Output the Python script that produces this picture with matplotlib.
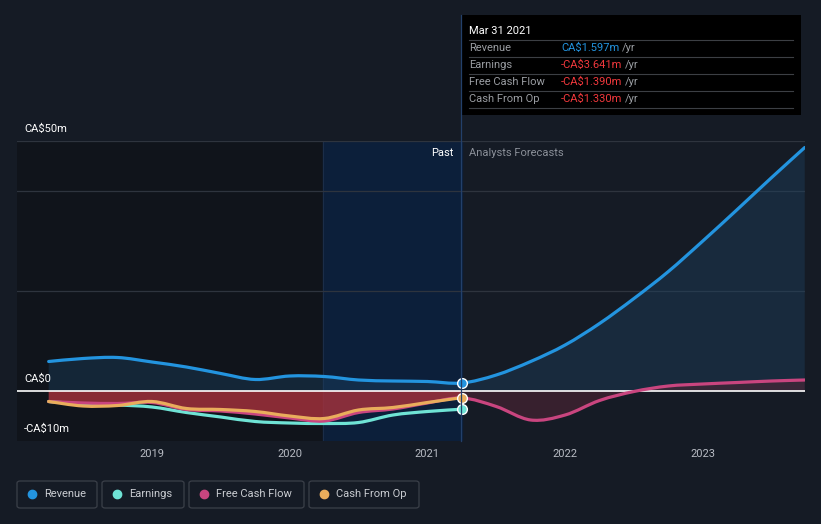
import matplotlib
matplotlib.use("Agg")
import matplotlib.pyplot as plt
from matplotlib.patches import Rectangle, FancyBboxPatch, PathPatch
from matplotlib.path import Path
import numpy as np

plt.rcParams['font.family'] = ['Roboto', 'DejaVu Sans']

# quarterly points as decimal years (trailing twelve months, CA$m)
past_x = [2018.25, 2018.5, 2018.75, 2019.0, 2019.25, 2019.5, 2019.75,
          2020.0, 2020.25, 2020.5, 2020.75, 2021.0, 2021.25]
revenue_past = [5.9, 6.5, 6.7, 5.8, 4.8, 3.5, 2.3, 3.0, 2.9, 2.2, 2.0, 1.9, 1.597]
earnings_past = [-2.1, -2.6, -2.8, -3.2, -4.3, -5.2, -6.1, -6.4, -6.5, -6.3, -4.8, -4.1, -3.641]
fcf_past = [-2.1, -2.4, -2.5, -2.3, -3.7, -4.0, -4.6, -5.4, -6.0, -4.3, -3.6, -2.4, -1.390]
cfo_past = [-2.1, -3.0, -2.9, -2.1, -3.5, -3.7, -4.1, -5.0, -5.5, -3.8, -3.3, -2.3, -1.330]

fc_x = [2021.25, 2021.5, 2021.75, 2022.0, 2022.25, 2022.5, 2022.75,
        2023.0, 2023.25, 2023.5, 2023.74]
revenue_fc = [1.597, 3.2, 5.9, 9.2, 13.5, 18.5, 23.9, 30.0, 36.3, 42.7, 48.7]
fcf_fc = [-1.390, -3.1, -5.8, -4.8, -1.9, -0.1, 1.0, 1.4, 1.7, 2.0, 2.2]

years = [2019, 2020, 2021, 2022, 2023]
y_labels = ['CA$50m', 'CA$0', '-CA$10m']

c_rev = '#2394df'
c_earn = '#6fe3d5'
c_fcf = '#c9457f'
c_cfo = '#e9ad5c'
bg = '#151b25'
FS = 8

W, H = 821, 524
fig = plt.figure(figsize=(W / 100, H / 100), dpi=100, facecolor=bg)


def fx(x):
    return x / W


def fy(y):
    return 1 - y / H


def curve(xs, ys):
    # catmull-rom through the points, as bezier segments
    p = np.column_stack([xs, ys]).astype(float)
    verts, codes = [tuple(p[0])], [Path.MOVETO]
    n = len(p)
    for i in range(n - 1):
        p0 = p[max(i - 1, 0)]
        p1, p2 = p[i], p[i + 1]
        p3 = p[min(i + 2, n - 1)]
        c1 = p1 + (p2 - p0) / 6
        c2 = p2 - (p3 - p1) / 6
        verts += [tuple(c1), tuple(c2), tuple(p2)]
        codes += [Path.CURVE4] * 3
    return verts, codes


def draw_line(ax, xs, ys, color, z):
    v, c = curve(xs, ys)
    ax.add_patch(PathPatch(Path(v, c), fill=False, edgecolor=color, lw=2.3,
                           capstyle='round', joinstyle='round', zorder=z))


def draw_fill(ax, xs, ys, color, alpha, z=1):
    v, c = curve(xs, ys)
    v += [(xs[-1], 0), (xs[0], 0), (xs[0], 0)]
    c += [Path.LINETO, Path.LINETO, Path.CLOSEPOLY]
    ax.add_patch(PathPatch(Path(v, c), facecolor=color, edgecolor='none',
                           alpha=alpha, zorder=z))


ax = fig.add_axes([fx(17), fy(441), 788 / W, 300 / H])
ax.set_facecolor(bg)
ax.set_xlim(2018.02, 2023.742)
ax.set_ylim(-10, 50)
for s in ax.spines.values():
    s.set_visible(False)
ax.set_xticks([])
ax.set_yticks([])

# shaded past regions
ax.axvspan(2018.02, 2020.24, color='#10141b', zorder=0)
ax.axvspan(2020.24, 2021.25, color='#0c1f3a', zorder=0)
ax.axvline(2020.24, color='#1b2d48', lw=0.8, zorder=0.5)

# grid lines
for g in [40, 20, 50]:
    ax.axhline(g, color='#2e343e', lw=0.9, zorder=0.6)

all_x = past_x + fc_x[1:]
all_rev = revenue_past + revenue_fc[1:]
all_fcf = fcf_past + fcf_fc[1:]

# fills
draw_fill(ax, all_x, all_rev, '#1d4466', 0.38)
draw_fill(ax, past_x, fcf_past, '#a8323c', 0.8)
draw_fill(ax, fc_x, fcf_fc, '#4e2535', 0.6)

ax.axhline(0, color='white', lw=1.2, zorder=2)

draw_line(ax, past_x, earnings_past, c_earn, 3)
draw_line(ax, all_x, all_fcf, c_fcf, 3)
draw_line(ax, past_x, cfo_past, c_cfo, 4)
draw_line(ax, all_x, all_rev, c_rev, 4)

for val, c in [(revenue_past[-1], c_rev), (earnings_past[-1], c_earn),
               (cfo_past[-1], c_cfo)]:
    ax.plot([past_x[-1]], [val], 'o', ms=7, mfc=c, mec='white', mew=1.0, zorder=6)

# divider line past/forecast
fig.add_artist(plt.Line2D([fx(461), fx(461)], [fy(15), fy(441)], color='#23406a', lw=0.9))

# labels
tick_c = '#b8bcc4'
for yr in years:
    xp = 152 + (yr - 2019) * 137.7
    fig.text(fx(xp), fy(454), str(yr), color=tick_c, fontsize=FS, ha='center', va='center')
for lab, yp in zip(y_labels, [129, 379, 429]):
    fig.text(fx(24), fy(yp), lab, color='white', fontsize=FS, ha='left', va='center')

fig.text(fx(453), fy(153), 'Past', color='white', fontsize=FS, ha='right', va='center')
fig.text(fx(469), fy(153), 'Analysts Forecasts', color='#8b9099', fontsize=FS, ha='left', va='center')

# tooltip box
fig.add_artist(Rectangle((fx(461), fy(115)), 340 / W, 100 / H, transform=fig.transFigure,
                         facecolor='black', edgecolor='none'))
fig.text(fx(469), fy(31), 'Mar 31 2021', color='white', fontsize=FS, ha='left', va='center')
for yl in [40, 57, 74, 91, 108]:
    fig.add_artist(plt.Line2D([fx(469), fx(793)], [fy(yl), fy(yl)], color='#3c3f44', lw=0.8))

rows = [('Revenue', 'CA$1.597m', c_rev),
        ('Earnings', '-CA$3.641m', '#f0383c'),
        ('Free Cash Flow', '-CA$1.390m', '#f0383c'),
        ('Cash From Op', '-CA$1.330m', '#f0383c')]
fig.canvas.draw()
rend = fig.canvas.get_renderer()
for i, (name, val, c) in enumerate(rows):
    yp = 48 + i * 17
    fig.text(fx(469), fy(yp), name, color='#9a9da2', fontsize=FS, ha='left', va='center')
    t = fig.text(fx(561), fy(yp), val, color=c, fontsize=FS, ha='left', va='center')
    bb = t.get_window_extent(rend)
    fig.text(bb.x1 / W + fx(3), fy(yp), '/yr', color='#9a9da2', fontsize=FS, ha='left', va='center')

# legend boxes
legend = [('Revenue', c_rev, 17, 97), ('Earnings', c_earn, 102, 184),
          ('Free Cash Flow', c_fcf, 189, 304), ('Cash From Op', c_cfo, 309, 419)]
for name, c, x0, x1 in legend:
    fig.add_artist(FancyBboxPatch((fx(x0), fy(508)), (x1 - x0) / W, 27 / H,
                                  boxstyle='round,pad=0,rounding_size=0.004',
                                  transform=fig.transFigure, facecolor='none',
                                  edgecolor='#3b4049', lw=0.9))
    fig.add_artist(plt.Line2D([fx(x0 + 15)], [fy(494)], marker='o', ms=6, color=c, mec=c))
    fig.text(fx(x0 + 27), fy(494), name, color='#c9ccd1', fontsize=FS, ha='left', va='center')

fig.savefig('out.png', dpi=100, facecolor=bg)
